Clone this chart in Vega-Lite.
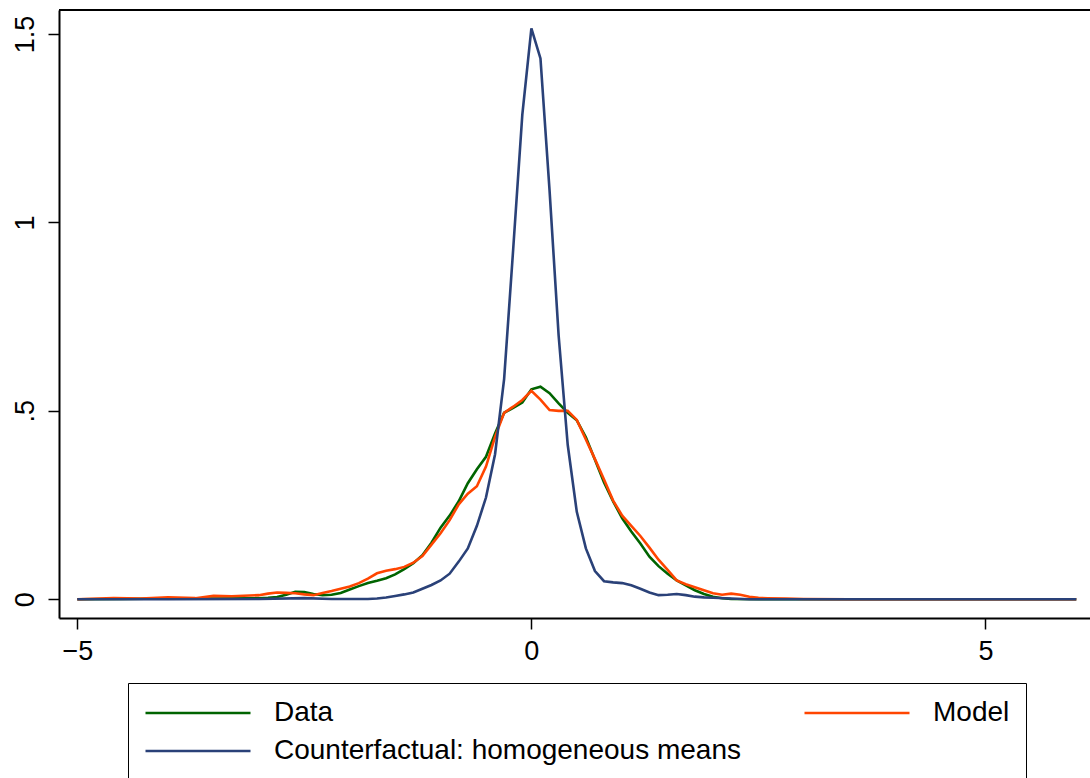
{
  "$schema": "https://vega.github.io/schema/vega-lite/v6.json",
  "width": 1031,
  "height": 608,
  "autosize": {"type": "none"},
  "padding": {"left": 59, "top": 10, "right": 0, "bottom": 160},
  "background": "white",
  "config": {
    "view": {"stroke": null},
    "font": "Liberation Sans"
  },
  "layer": [
    {
      "data": {"values": [
        {"x": -5, "y": 0, "s": "Data"}, {"x": -4.5, "y": 0.001, "s": "Data"}, {"x": -4, "y": 0.002, "s": "Data"}, {"x": -3.5, "y": 0.002, "s": "Data"}, {"x": -3.0, "y": 0.003, "s": "Data"}, {"x": -2.9, "y": 0.004, "s": "Data"}, {"x": -2.8, "y": 0.006, "s": "Data"}, {"x": -2.7, "y": 0.012, "s": "Data"}, {"x": -2.6, "y": 0.02, "s": "Data"}, {"x": -2.5, "y": 0.019, "s": "Data"}, {"x": -2.4, "y": 0.014, "s": "Data"}, {"x": -2.3, "y": 0.011, "s": "Data"}, {"x": -2.2, "y": 0.012, "s": "Data"}, {"x": -2.1, "y": 0.017, "s": "Data"}, {"x": -2.0, "y": 0.026, "s": "Data"}, {"x": -1.9, "y": 0.035, "s": "Data"}, {"x": -1.8, "y": 0.043, "s": "Data"}, {"x": -1.7, "y": 0.049, "s": "Data"}, {"x": -1.6, "y": 0.056, "s": "Data"}, {"x": -1.5, "y": 0.066, "s": "Data"}, {"x": -1.4, "y": 0.08, "s": "Data"}, {"x": -1.3, "y": 0.096, "s": "Data"}, {"x": -1.2, "y": 0.117, "s": "Data"}, {"x": -1.1, "y": 0.15, "s": "Data"}, {"x": -1.0, "y": 0.19, "s": "Data"}, {"x": -0.9, "y": 0.222, "s": "Data"}, {"x": -0.8, "y": 0.26, "s": "Data"}, {"x": -0.7, "y": 0.308, "s": "Data"}, {"x": -0.6, "y": 0.345, "s": "Data"}, {"x": -0.5, "y": 0.378, "s": "Data"}, {"x": -0.4, "y": 0.44, "s": "Data"}, {"x": -0.3, "y": 0.495, "s": "Data"}, {"x": -0.2, "y": 0.508, "s": "Data"}, {"x": -0.1, "y": 0.522, "s": "Data"}, {"x": 0.0, "y": 0.557, "s": "Data"}, {"x": 0.1, "y": 0.564, "s": "Data"}, {"x": 0.2, "y": 0.547, "s": "Data"}, {"x": 0.3, "y": 0.52, "s": "Data"}, {"x": 0.4, "y": 0.495, "s": "Data"}, {"x": 0.5, "y": 0.475, "s": "Data"}, {"x": 0.6, "y": 0.43, "s": "Data"}, {"x": 0.7, "y": 0.37, "s": "Data"}, {"x": 0.8, "y": 0.31, "s": "Data"}, {"x": 0.9, "y": 0.26, "s": "Data"}, {"x": 1.0, "y": 0.215, "s": "Data"}, {"x": 1.1, "y": 0.18, "s": "Data"}, {"x": 1.2, "y": 0.148, "s": "Data"}, {"x": 1.3, "y": 0.113, "s": "Data"}, {"x": 1.4, "y": 0.088, "s": "Data"}, {"x": 1.5, "y": 0.068, "s": "Data"}, {"x": 1.6, "y": 0.05, "s": "Data"}, {"x": 1.7, "y": 0.037, "s": "Data"}, {"x": 1.8, "y": 0.024, "s": "Data"}, {"x": 1.9, "y": 0.014, "s": "Data"}, {"x": 2.0, "y": 0.007, "s": "Data"}, {"x": 2.1, "y": 0.003, "s": "Data"}, {"x": 2.2, "y": 0.001, "s": "Data"}, {"x": 2.5, "y": 0, "s": "Data"}, {"x": 3, "y": 0, "s": "Data"}, {"x": 4, "y": 0, "s": "Data"}, {"x": 5, "y": 0, "s": "Data"}, {"x": 6, "y": 0, "s": "Data"},
        {"x": -5, "y": 0, "s": "Model"}, {"x": -4.6, "y": 0.003, "s": "Model"}, {"x": -4.3, "y": 0.002, "s": "Model"}, {"x": -4.0, "y": 0.005, "s": "Model"}, {"x": -3.7, "y": 0.003, "s": "Model"}, {"x": -3.5, "y": 0.009, "s": "Model"}, {"x": -3.3, "y": 0.008, "s": "Model"}, {"x": -3.1, "y": 0.01, "s": "Model"}, {"x": -3.0, "y": 0.011, "s": "Model"}, {"x": -2.9, "y": 0.015, "s": "Model"}, {"x": -2.8, "y": 0.018, "s": "Model"}, {"x": -2.7, "y": 0.017, "s": "Model"}, {"x": -2.6, "y": 0.016, "s": "Model"}, {"x": -2.5, "y": 0.013, "s": "Model"}, {"x": -2.4, "y": 0.011, "s": "Model"}, {"x": -2.3, "y": 0.017, "s": "Model"}, {"x": -2.2, "y": 0.022, "s": "Model"}, {"x": -2.1, "y": 0.028, "s": "Model"}, {"x": -2.0, "y": 0.034, "s": "Model"}, {"x": -1.9, "y": 0.043, "s": "Model"}, {"x": -1.8, "y": 0.055, "s": "Model"}, {"x": -1.7, "y": 0.069, "s": "Model"}, {"x": -1.6, "y": 0.076, "s": "Model"}, {"x": -1.5, "y": 0.08, "s": "Model"}, {"x": -1.4, "y": 0.086, "s": "Model"}, {"x": -1.3, "y": 0.097, "s": "Model"}, {"x": -1.2, "y": 0.115, "s": "Model"}, {"x": -1.1, "y": 0.145, "s": "Model"}, {"x": -1.0, "y": 0.175, "s": "Model"}, {"x": -0.9, "y": 0.21, "s": "Model"}, {"x": -0.8, "y": 0.252, "s": "Model"}, {"x": -0.7, "y": 0.28, "s": "Model"}, {"x": -0.6, "y": 0.30, "s": "Model"}, {"x": -0.5, "y": 0.352, "s": "Model"}, {"x": -0.4, "y": 0.431, "s": "Model"}, {"x": -0.3, "y": 0.495, "s": "Model"}, {"x": -0.2, "y": 0.511, "s": "Model"}, {"x": -0.1, "y": 0.529, "s": "Model"}, {"x": 0.0, "y": 0.553, "s": "Model"}, {"x": 0.1, "y": 0.53, "s": "Model"}, {"x": 0.2, "y": 0.502, "s": "Model"}, {"x": 0.3, "y": 0.50, "s": "Model"}, {"x": 0.4, "y": 0.50, "s": "Model"}, {"x": 0.5, "y": 0.476, "s": "Model"}, {"x": 0.6, "y": 0.424, "s": "Model"}, {"x": 0.7, "y": 0.372, "s": "Model"}, {"x": 0.8, "y": 0.318, "s": "Model"}, {"x": 0.9, "y": 0.262, "s": "Model"}, {"x": 1.0, "y": 0.222, "s": "Model"}, {"x": 1.1, "y": 0.195, "s": "Model"}, {"x": 1.2, "y": 0.168, "s": "Model"}, {"x": 1.3, "y": 0.137, "s": "Model"}, {"x": 1.4, "y": 0.105, "s": "Model"}, {"x": 1.5, "y": 0.078, "s": "Model"}, {"x": 1.6, "y": 0.05, "s": "Model"}, {"x": 1.7, "y": 0.04, "s": "Model"}, {"x": 1.8, "y": 0.032, "s": "Model"}, {"x": 1.9, "y": 0.024, "s": "Model"}, {"x": 2.0, "y": 0.016, "s": "Model"}, {"x": 2.1, "y": 0.012, "s": "Model"}, {"x": 2.2, "y": 0.015, "s": "Model"}, {"x": 2.3, "y": 0.012, "s": "Model"}, {"x": 2.4, "y": 0.007, "s": "Model"}, {"x": 2.5, "y": 0.004, "s": "Model"}, {"x": 2.6, "y": 0.003, "s": "Model"}, {"x": 2.8, "y": 0.002, "s": "Model"}, {"x": 3.0, "y": 0.001, "s": "Model"}, {"x": 3.5, "y": 0, "s": "Model"}, {"x": 4, "y": 0, "s": "Model"}, {"x": 5, "y": 0, "s": "Model"}, {"x": 6, "y": 0, "s": "Model"},
        {"x": -5, "y": 0, "s": "Counterfactual: homogeneous means"}, {"x": -4, "y": 0, "s": "Counterfactual: homogeneous means"}, {"x": -3, "y": 0.001, "s": "Counterfactual: homogeneous means"}, {"x": -2.5, "y": 0.003, "s": "Counterfactual: homogeneous means"}, {"x": -2.2, "y": 0.001, "s": "Counterfactual: homogeneous means"}, {"x": -2.0, "y": 0.001, "s": "Counterfactual: homogeneous means"}, {"x": -1.8, "y": 0.001, "s": "Counterfactual: homogeneous means"}, {"x": -1.7, "y": 0.002, "s": "Counterfactual: homogeneous means"}, {"x": -1.6, "y": 0.005, "s": "Counterfactual: homogeneous means"}, {"x": -1.5, "y": 0.009, "s": "Counterfactual: homogeneous means"}, {"x": -1.4, "y": 0.013, "s": "Counterfactual: homogeneous means"}, {"x": -1.3, "y": 0.018, "s": "Counterfactual: homogeneous means"}, {"x": -1.2, "y": 0.028, "s": "Counterfactual: homogeneous means"}, {"x": -1.1, "y": 0.038, "s": "Counterfactual: homogeneous means"}, {"x": -1.0, "y": 0.05, "s": "Counterfactual: homogeneous means"}, {"x": -0.9, "y": 0.068, "s": "Counterfactual: homogeneous means"}, {"x": -0.8, "y": 0.1, "s": "Counterfactual: homogeneous means"}, {"x": -0.7, "y": 0.135, "s": "Counterfactual: homogeneous means"}, {"x": -0.6, "y": 0.195, "s": "Counterfactual: homogeneous means"}, {"x": -0.5, "y": 0.27, "s": "Counterfactual: homogeneous means"}, {"x": -0.4, "y": 0.385, "s": "Counterfactual: homogeneous means"}, {"x": -0.3, "y": 0.585, "s": "Counterfactual: homogeneous means"}, {"x": -0.2, "y": 0.93, "s": "Counterfactual: homogeneous means"}, {"x": -0.1, "y": 1.285, "s": "Counterfactual: homogeneous means"}, {"x": 0.0, "y": 1.515, "s": "Counterfactual: homogeneous means"}, {"x": 0.1, "y": 1.435, "s": "Counterfactual: homogeneous means"}, {"x": 0.2, "y": 1.085, "s": "Counterfactual: homogeneous means"}, {"x": 0.3, "y": 0.70, "s": "Counterfactual: homogeneous means"}, {"x": 0.4, "y": 0.41, "s": "Counterfactual: homogeneous means"}, {"x": 0.5, "y": 0.232, "s": "Counterfactual: homogeneous means"}, {"x": 0.6, "y": 0.135, "s": "Counterfactual: homogeneous means"}, {"x": 0.7, "y": 0.075, "s": "Counterfactual: homogeneous means"}, {"x": 0.8, "y": 0.048, "s": "Counterfactual: homogeneous means"}, {"x": 0.9, "y": 0.045, "s": "Counterfactual: homogeneous means"}, {"x": 1.0, "y": 0.043, "s": "Counterfactual: homogeneous means"}, {"x": 1.1, "y": 0.037, "s": "Counterfactual: homogeneous means"}, {"x": 1.2, "y": 0.028, "s": "Counterfactual: homogeneous means"}, {"x": 1.3, "y": 0.018, "s": "Counterfactual: homogeneous means"}, {"x": 1.4, "y": 0.011, "s": "Counterfactual: homogeneous means"}, {"x": 1.5, "y": 0.012, "s": "Counterfactual: homogeneous means"}, {"x": 1.6, "y": 0.014, "s": "Counterfactual: homogeneous means"}, {"x": 1.7, "y": 0.011, "s": "Counterfactual: homogeneous means"}, {"x": 1.8, "y": 0.007, "s": "Counterfactual: homogeneous means"}, {"x": 1.9, "y": 0.005, "s": "Counterfactual: homogeneous means"}, {"x": 2.0, "y": 0.004, "s": "Counterfactual: homogeneous means"}, {"x": 2.2, "y": 0.002, "s": "Counterfactual: homogeneous means"}, {"x": 2.4, "y": 0, "s": "Counterfactual: homogeneous means"}, {"x": 3, "y": 0, "s": "Counterfactual: homogeneous means"}, {"x": 4, "y": 0, "s": "Counterfactual: homogeneous means"}, {"x": 5, "y": 0, "s": "Counterfactual: homogeneous means"}, {"x": 6, "y": 0, "s": "Counterfactual: homogeneous means"}
      ]},
      "mark": {"type": "line", "strokeWidth": 2.6, "strokeJoin": "miter", "clip": true},
      "encoding": {
        "x": {
          "field": "x", "type": "quantitative",
          "scale": {"domain": [-5.2015, 6.151], "nice": false, "zero": false},
          "axis": {
            "title": null, "values": [-5, 0, 5], "grid": false,
            "domainColor": "black", "domainWidth": 2,
            "tickColor": "black", "tickWidth": 1.5, "tickSize": 11,
            "labelFontSize": 27, "labelColor": "black", "labelPadding": 9,
            "labelFont": "Liberation Sans"
          }
        },
        "y": {
          "field": "y", "type": "quantitative",
          "scale": {"domain": [-0.0496, 1.5635], "nice": false, "zero": false},
          "axis": {
            "title": null, "values": [0, 0.5, 1, 1.5], "grid": false,
            "labelExpr": "datum.value == 0 ? '0' : datum.value == 0.5 ? '.5' : datum.value == 1 ? '1' : '1.5'",
            "labelAngle": 270,
            "domainColor": "black", "domainWidth": 2,
            "tickColor": "black", "tickWidth": 1.5, "tickSize": 11,
            "labelFontSize": 27, "labelColor": "black", "labelPadding": 9,
            "labelFont": "Liberation Sans"
          }
        },
        "color": {
          "field": "s", "type": "nominal",
          "scale": {
            "domain": ["Data", "Counterfactual: homogeneous means", "Model"],
            "range": ["#006400", "#2A4178", "#FF4500"]
          },
          "legend": {
            "title": null,
            "orient": "none",
            "legendX": 69,
            "legendY": 673,
            "columns": 2,
            "columnPadding": 62,
            "rowPadding": 10,
            "padding": 16,
            "strokeColor": "black",
            "symbolType": "stroke",
            "symbolSize": 11025,
            "symbolStrokeWidth": 2.6,
            "labelFontSize": 28,
            "labelFont": "Liberation Sans",
            "labelColor": "black",
            "labelOffset": 22,
            "labelLimit": 1000,
            "clipHeight": 28
          }
        }
      }
    },
    {
      "data": {"values": [{}]},
      "mark": {"type": "rule", "color": "black", "strokeWidth": 2},
      "encoding": {"y": {"datum": 1.5635}}
    }
  ]
}
